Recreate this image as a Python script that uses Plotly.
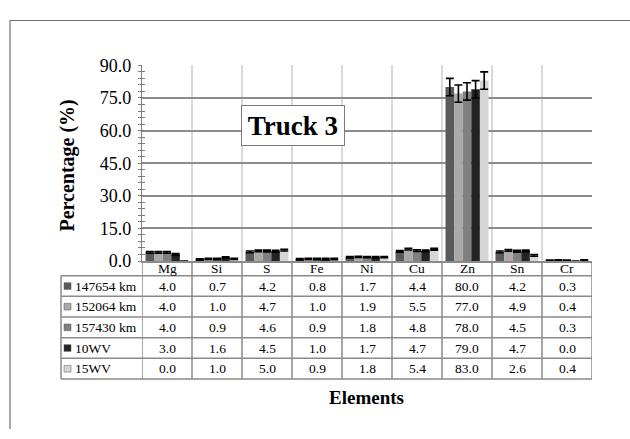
import plotly.graph_objects as go

# ---- data -------------------------------------------------------------
elements = ["Mg", "Si", "S", "Fe", "Ni", "Cu", "Zn", "Sn", "Cr"]
series_names = ["147654 km", "152064 km", "157430 km", "10WV", "15WV"]

v_147654 = [4.0, 0.7, 4.2, 0.8, 1.7, 4.4, 80.0, 4.2, 0.3]
v_152064 = [4.0, 1.0, 4.7, 1.0, 1.9, 5.5, 77.0, 4.9, 0.4]
v_157430 = [4.0, 0.9, 4.6, 0.9, 1.8, 4.8, 78.0, 4.5, 0.3]
v_10wv = [3.0, 1.6, 4.5, 1.0, 1.7, 4.7, 79.0, 4.7, 0.0]
v_15wv = [0.0, 1.0, 5.0, 0.9, 1.8, 5.4, 83.0, 2.6, 0.4]

e_147654 = [0.4, 0.3, 0.4, 0.3, 0.3, 0.4, 4.0, 0.4, 0.2]
e_152064 = [0.4, 0.3, 0.4, 0.3, 0.3, 0.4, 4.0, 0.4, 0.2]
e_157430 = [0.4, 0.3, 0.4, 0.3, 0.3, 0.4, 4.0, 0.4, 0.2]
e_10wv = [0.4, 0.3, 0.4, 0.3, 0.3, 0.4, 4.0, 0.4, 0.0]
e_15wv = [0.0, 0.3, 0.4, 0.3, 0.3, 0.4, 4.0, 0.4, 0.2]

series_values = [v_147654, v_152064, v_157430, v_10wv, v_15wv]
series_errors = [e_147654, e_152064, e_157430, e_10wv, e_15wv]
series_colors = ["#5a5a5a", "#a9a9a9", "#808080", "#232323", "#d6d6d6"]

y_ticks = [0, 15, 30, 45, 60, 75, 90]

# ---- layout geometry (pixels in a 630 x 439 page) ----------------------
W, H = 630, 439
PLOT_L, PLOT_R = 142, 592
PLOT_T, PLOT_B = 58, 263
TABLE_L = 61
ROW_LINES = [278.5, 300, 321.7, 343.3, 365, 386.7]

FONT = "Liberation Serif, Times New Roman, serif"
GRID_H = "#8c8c8c"
GRID_V = "#d9d9d9"
TABLE_LINE = "#8a8a8a"


def px(x):
    return x / W


def py(y):
    return (H - y) / H


fig = go.Figure()

for name, vals, errs, col in zip(series_names, series_values, series_errors, series_colors):
    fig.add_trace(go.Bar(
        x=elements, y=vals, name=name,
        marker=dict(color=col, line=dict(width=0)),
        error_y=dict(type="data", array=errs, visible=True,
                     color="black", thickness=1.6, width=4),
        showlegend=False,
    ))

shapes = []
annotations = []

# outer chart frame (left and top edges)
shapes.append(dict(type="line", xref="paper", yref="paper",
                   x0=px(10), x1=px(10), y0=0, y1=py(11),
                   line=dict(color="#6f6f6f", width=1.2)))
shapes.append(dict(type="line", xref="paper", yref="paper",
                   x0=px(10), x1=1, y0=py(11), y1=py(11),
                   line=dict(color="#6f6f6f", width=1.2)))

# data table grid: column separators on category boundaries
for i in range(len(elements) + 1):
    shapes.append(dict(type="line", xref="x", yref="paper",
                       x0=i - 0.5, x1=i - 0.5,
                       y0=py(ROW_LINES[-1]), y1=py(PLOT_B),
                       line=dict(color=TABLE_LINE, width=1.5)))
# legend column left edge
shapes.append(dict(type="line", xref="paper", yref="paper",
                   x0=px(TABLE_L), x1=px(TABLE_L),
                   y0=py(ROW_LINES[-1]), y1=py(ROW_LINES[0]),
                   line=dict(color=TABLE_LINE, width=1.5)))
# row separators
for yl in ROW_LINES:
    shapes.append(dict(type="line", xref="paper", yref="paper",
                       x0=px(TABLE_L), x1=px(PLOT_R),
                       y0=py(yl), y1=py(yl),
                       line=dict(color=TABLE_LINE, width=1.5)))

# header row: element names
header_y = (PLOT_B + ROW_LINES[0]) / 2
for el in elements:
    annotations.append(dict(xref="x", yref="paper", x=el, y=py(header_y + 0.5),
                            xanchor="center", yanchor="middle", showarrow=False,
                            text=el, font=dict(family=FONT, size=13.5, color="black")))

# table rows: legend key + values
for r, (name, vals, col) in enumerate(zip(series_names, series_values, series_colors)):
    yc = (ROW_LINES[r] + ROW_LINES[r + 1]) / 2
    shapes.append(dict(type="rect", xref="paper", yref="paper",
                       x0=px(64), x1=px(71), y0=py(yc + 3.5), y1=py(yc - 3.5),
                       fillcolor=col, line=dict(color="#555555", width=0.5)))
    annotations.append(dict(xref="paper", yref="paper", x=px(73), y=py(yc),
                            xanchor="left", yanchor="middle", showarrow=False,
                            text=name, font=dict(family=FONT, size=13.5, color="black")))
    for i, v in enumerate(vals):
        annotations.append(dict(xref="x", yref="paper", x=elements[i], y=py(yc),
                                xanchor="center", yanchor="middle", showarrow=False,
                                text=f"{v:.1f}",
                                font=dict(family=FONT, size=13.5, color="black")))

# chart title box
annotations.append(dict(xref="paper", yref="paper", x=px(293), y=py(121.5),
                        xanchor="center", yanchor="middle", showarrow=False,
                        text="<b>Truck 3</b>", width=96, height=33,
                        bgcolor="white", bordercolor="#7a7a7a", borderwidth=1,
                        borderpad=3,
                        font=dict(family=FONT, size=27, color="black")))

# axis titles
annotations.append(dict(xref="paper", yref="paper", x=px(68), y=py(163),
                        xanchor="center", yanchor="middle", showarrow=False,
                        textangle=-90, text="<b>Percentage (%)</b>",
                        font=dict(family=FONT, size=20, color="black")))
annotations.append(dict(xref="paper", yref="paper", x=px(366), y=py(406),
                        xanchor="center", yanchor="middle", showarrow=False,
                        text="<b>Elements</b>",
                        font=dict(family=FONT, size=19, color="black")))

axis_y_common = dict(range=[0, 90], domain=[py(PLOT_B), py(PLOT_T)])

fig.update_layout(
    width=W, height=H,
    margin=dict(l=0, r=0, t=0, b=0),
    paper_bgcolor="white", plot_bgcolor="white",
    barmode="group", bargap=0.14, bargroupgap=0.0,
    font=dict(family=FONT, color="black"),
    xaxis=dict(
        domain=[px(PLOT_L), px(PLOT_R)],
        type="category", categoryorder="array", categoryarray=elements,
        range=[-0.5, len(elements) - 0.5],
        tickson="boundaries", ticks="", showgrid=True,
        gridcolor=GRID_V, gridwidth=1.5,
        showline=True, linecolor=TABLE_LINE, linewidth=1.5,
        showticklabels=False,
        fixedrange=True,
    ),
    yaxis=dict(
        **axis_y_common,
        tickvals=y_ticks, ticktext=[f"{t:.1f}" for t in y_ticks],
        ticks="outside", ticklen=3, tickwidth=1, tickcolor="#7f7f7f",
        minor=dict(dtick=3, tick0=0, ticks="outside", ticklen=3,
                   tickwidth=1, tickcolor="#7f7f7f", showgrid=False),
        showgrid=True, gridcolor=GRID_H, gridwidth=1.5,
        showline=True, linecolor="#7f7f7f", linewidth=1.2,
        zeroline=False,
        tickfont=dict(family=FONT, size=18, color="black"),
        ticklabelstandoff=3,
        fixedrange=True,
    ),
    yaxis2=dict(
        **axis_y_common,
        overlaying="y", side="left", anchor="x",
        tickvals=y_ticks, showticklabels=False,
        ticks="inside", ticklen=3, tickwidth=1, tickcolor="#7f7f7f",
        minor=dict(dtick=3, tick0=0, ticks="inside", ticklen=3,
                   tickwidth=1, tickcolor="#7f7f7f", showgrid=False),
        showgrid=False, zeroline=False, showline=False,
        fixedrange=True,
    ),
    shapes=shapes,
    annotations=annotations,
)

# invisible helper so the inner tick marks are drawn
fig.add_trace(go.Scatter(x=[elements[0]], y=[0], yaxis="y2", mode="markers",
                         marker=dict(opacity=0), showlegend=False, hoverinfo="skip"))

fig.write_html("out.html")
